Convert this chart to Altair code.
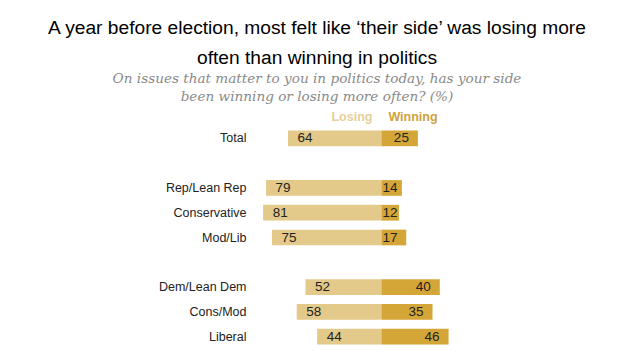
import altair as alt
import pandas as pd

groups = ["Total", "_1", "Rep/Lean Rep", "Conservative", "Mod/Lib", "_2",
          "Dem/Lean Dem", "Cons/Mod", "Liberal"]
labels = ["Total", "Rep/Lean Rep", "Conservative", "Mod/Lib",
          "Dem/Lean Dem", "Cons/Mod", "Liberal"]
losing = [64, 79, 81, 75, 52, 58, 44]
winning = [25, 14, 12, 17, 40, 35, 46]

title_lines = ["A year before election, most felt like \u2018their side\u2019 was losing more",
               "often than winning in politics"]
subtitle_lines = ["On issues that matter to you in politics today, has your side",
                  "been winning or losing more often? (%)"]

LOSE_C = "#e3c98a"
WIN_C = "#d3a637"

rows = []
for g, l, w in zip(labels, losing, winning):
    rows.append({"group": g, "side": "Losing", "val": -l, "num": l})
    rows.append({"group": g, "side": "Winning", "val": w, "num": w})
df = pd.DataFrame(rows)

xs = alt.Scale(domain=[-90, 60], nice=False, zero=False)
ys = alt.Scale(domain=groups, paddingInner=0.366, paddingOuter=0.183)

base = alt.Chart(df)

bars = base.mark_bar().encode(
    x=alt.X("val:Q", scale=xs, axis=None),
    y=alt.Y("group:N", scale=ys, sort=groups,
            axis=alt.Axis(title=None, domain=False, ticks=False, labelPadding=4,
                          labelFont="Liberation Sans", labelFontSize=12.5,
                          labelColor="#222222",
                          labelExpr="indexof(datum.value, '_') == 0 ? '' : datum.value")),
    color=alt.Color("side:N", scale=alt.Scale(domain=["Losing", "Winning"],
                                              range=[LOSE_C, WIN_C]), legend=None),
)

txt_style = dict(font="Liberation Sans", fontSize=13.5, color="#222222", baseline="middle")

lose_txt = base.transform_filter("datum.side == 'Losing'").mark_text(
    align="left", dx=9.5, **txt_style).encode(
    x=alt.X("val:Q", scale=xs), y=alt.Y("group:N", scale=ys, sort=groups), text="num:Q")

win_big = base.transform_filter("datum.side == 'Winning' && datum.num >= 20").mark_text(
    align="right", dx=-9, **txt_style).encode(
    x=alt.X("val:Q", scale=xs), y=alt.Y("group:N", scale=ys, sort=groups), text="num:Q")

win_small = base.transform_filter("datum.side == 'Winning' && datum.num < 20").mark_text(
    align="left", dx=1, **txt_style).encode(
    x=alt.datum(0, scale=xs), y=alt.Y("group:N", scale=ys, sort=groups), text="num:Q")

hdr_style = dict(font="Liberation Sans", fontSize=12.5, fontWeight="bold", baseline="middle")
hdr_lose = alt.Chart(pd.DataFrame({"a": [0]})).mark_text(
    align="right", dx=-9, color="#e6cf99", **hdr_style).encode(
    x=alt.datum(0), y=alt.value(-9), text=alt.value("Losing"))
hdr_win = alt.Chart(pd.DataFrame({"a": [0]})).mark_text(
    align="left", dx=7, color="#cfa23c", **hdr_style).encode(
    x=alt.datum(0), y=alt.value(-9), text=alt.value("Winning"))

chart = alt.layer(bars, lose_txt, win_big, win_small, hdr_lose, hdr_win).properties(
    width=219, height=223,
    autosize=alt.AutoSizeParams(type="none"),
    padding={"left": 242, "top": 118, "right": 160, "bottom": 1},
    title=alt.TitleParams(
        text=title_lines, subtitle=subtitle_lines,
        anchor="middle", dx=-42.5, offset=7,
        font="Liberation Sans", fontSize=19.2, fontWeight="normal", color="#000000",
        lineHeight=30,
        subtitleFont="DejaVu Serif", subtitleFontStyle="italic", subtitleFontSize=13.6,
        subtitleColor="#8a8a8a", subtitleLineHeight=18, subtitlePadding=4,
    ),
).configure(background="#ffffff").configure_view(strokeWidth=0, stroke="transparent")

chart.save("out.html", embed_options={"renderer": "svg", "actions": False})
